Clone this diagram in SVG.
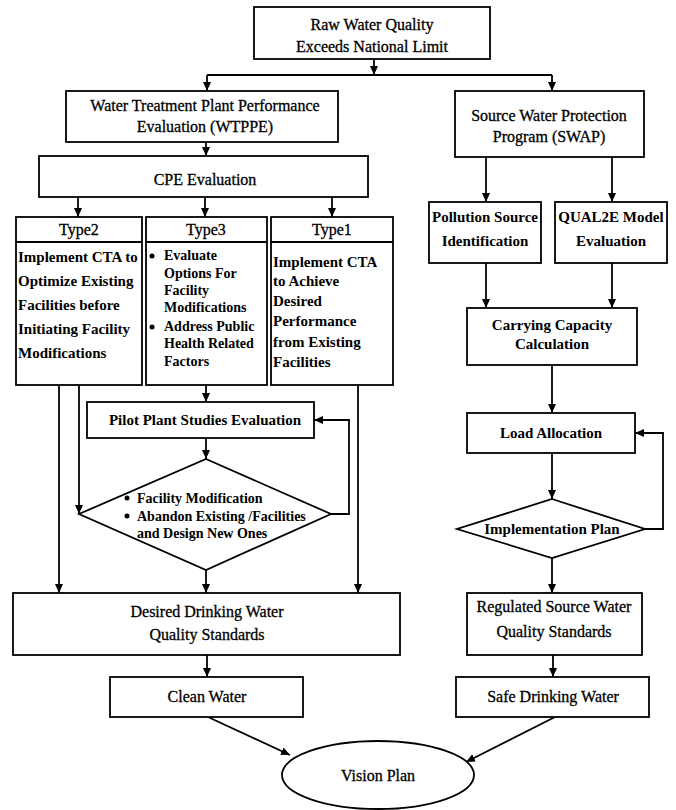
<svg xmlns="http://www.w3.org/2000/svg" width="676" height="810" viewBox="0 0 676 810">
<style>
.box{fill:#fff;stroke:#000;stroke-width:1.8}
.ln{fill:none;stroke:#000;stroke-width:1.8}
.t{font-family:"Liberation Serif","Times New Roman",serif;font-size:16px;fill:#000;stroke:#000;stroke-width:0.3;text-anchor:middle}
.b{font-family:"Liberation Serif","Times New Roman",serif;font-size:15px;font-weight:bold;fill:#000}
.s{font-size:14px}
.c{text-anchor:middle}
</style>
<defs>
<marker id="ah" markerWidth="10" markerHeight="10" refX="9" refY="5" orient="auto" markerUnits="userSpaceOnUse">
<path d="M0,1 L9,5 L0,9 Z" fill="#000"/>
</marker>
</defs>
<rect width="676" height="810" fill="#fff"/>

<g id="connectors">
<path class="ln" d="M374,59 V75" marker-end="url(#ah)"/>
<path class="ln" d="M207,75 H552"/>
<path class="ln" d="M207,75 V91" marker-end="url(#ah)"/>
<path class="ln" d="M552,75 V91" marker-end="url(#ah)"/>
<path class="ln" d="M206,142 V156" marker-end="url(#ah)"/>
<path class="ln" d="M78,197 V217" marker-end="url(#ah)"/>
<path class="ln" d="M205,197 V217" marker-end="url(#ah)"/>
<path class="ln" d="M332,197 V217" marker-end="url(#ah)"/>
<path class="ln" d="M206,385 V402" marker-end="url(#ah)"/>
<path class="ln" d="M206,438 V459" marker-end="url(#ah)"/>
<path class="ln" d="M79,385 V514" marker-end="url(#ah)"/>
<path class="ln" d="M331,514 H349 V420 H314" marker-end="url(#ah)"/>
<path class="ln" d="M59,385 V593" marker-end="url(#ah)"/>
<path class="ln" d="M206,570 V593" marker-end="url(#ah)"/>
<path class="ln" d="M358,385 V593" marker-end="url(#ah)"/>
<path class="ln" d="M207,655 V677" marker-end="url(#ah)"/>
<path class="ln" d="M208,717 L290,755" marker-end="url(#ah)"/>
<path class="ln" d="M486,157 V202" marker-end="url(#ah)"/>
<path class="ln" d="M612,157 V202" marker-end="url(#ah)"/>
<path class="ln" d="M486,263 V308" marker-end="url(#ah)"/>
<path class="ln" d="M612,263 V308" marker-end="url(#ah)"/>
<path class="ln" d="M552,365 V413" marker-end="url(#ah)"/>
<path class="ln" d="M552,453 V499" marker-end="url(#ah)"/>
<path class="ln" d="M645,529 H663 V433 H635" marker-end="url(#ah)"/>
<path class="ln" d="M552,558 V593" marker-end="url(#ah)"/>
<path class="ln" d="M553,655 V677" marker-end="url(#ah)"/>
<path class="ln" d="M555,717 L466,762" marker-end="url(#ah)"/>
</g>

<g id="raw">
<rect class="box" x="254" y="7" width="236" height="52"/>
<text class="t" x="372" y="30">Raw Water Quality</text>
<text class="t" x="372" y="52">Exceeds National Limit</text>
</g>

<g id="wtppe">
<rect class="box" x="66" y="91" width="272" height="51"/>
<text class="t" x="205" y="111">Water Treatment Plant Performance</text>
<text class="t" x="205" y="132">Evaluation (WTPPE)</text>
</g>

<g id="swap">
<rect class="box" x="455" y="91" width="189" height="66"/>
<text class="t" x="549" y="121">Source Water Protection</text>
<text class="t" x="549" y="142">Program (SWAP)</text>
</g>

<g id="cpe">
<rect class="box" x="39" y="156" width="329" height="41"/>
<text class="t" x="205" y="185">CPE Evaluation</text>
</g>

<g id="type2">
<rect class="box" x="16" y="217" width="126" height="168"/>
<line class="ln" x1="16" y1="242" x2="142" y2="242"/>
<text class="t" x="79" y="235">Type2</text>
<text class="b" x="18" y="262">Implement CTA to</text>
<text class="b" x="18" y="286">Optimize Existing</text>
<text class="b" x="18" y="310">Facilities before</text>
<text class="b" x="18" y="334">Initiating Facility</text>
<text class="b" x="18" y="358">Modifications</text>
</g>

<g id="type3">
<rect class="box" x="146" y="217" width="121" height="168"/>
<line class="ln" x1="146" y1="242" x2="267" y2="242"/>
<text class="t" x="206" y="235">Type3</text>
<circle cx="152" cy="256" r="2.5" fill="#000"/>
<text class="b s" x="164" y="260">Evaluate</text>
<text class="b s" x="164" y="278">Options For</text>
<text class="b s" x="164" y="295">Facility</text>
<text class="b s" x="164" y="312">Modifications</text>
<circle cx="152" cy="327" r="2.5" fill="#000"/>
<text class="b s" x="164" y="331">Address Public</text>
<text class="b s" x="164" y="348">Health Related</text>
<text class="b s" x="164" y="366">Factors</text>
</g>

<g id="type1">
<rect class="box" x="271" y="217" width="122" height="168"/>
<line class="ln" x1="271" y1="242" x2="393" y2="242"/>
<text class="t" x="332" y="235">Type1</text>
<text class="b" x="273" y="267">Implement CTA</text>
<text class="b" x="273" y="286">to Achieve</text>
<text class="b" x="273" y="306">Desired</text>
<text class="b" x="273" y="326">Performance</text>
<text class="b" x="273" y="347">from Existing</text>
<text class="b" x="273" y="367">Facilities</text>
</g>

<g id="pilot">
<rect class="box" x="87" y="402" width="227" height="36"/>
<text class="b c" x="205" y="425">Pilot Plant Studies Evaluation</text>
</g>

<g id="facility-decision">
<polygon class="box" points="206,459 331,514 206,570 79,514"/>
<circle cx="127" cy="498" r="2.5" fill="#000"/>
<text class="b s" x="137" y="503">Facility Modification</text>
<circle cx="127" cy="516" r="2.5" fill="#000"/>
<text class="b s" x="137" y="521">Abandon Existing /Facilities</text>
<text class="b s" x="137" y="538">and Design New Ones</text>
</g>

<g id="desired">
<rect class="box" x="13" y="593" width="387" height="62"/>
<text class="t" x="207" y="617">Desired Drinking Water</text>
<text class="t" x="207" y="640">Quality Standards</text>
</g>

<g id="clean">
<rect class="box" x="110" y="677" width="193" height="40"/>
<text class="t" x="207" y="702">Clean Water</text>
</g>

<g id="pollution">
<rect class="box" x="429" y="202" width="112" height="61"/>
<text class="b c" x="485" y="222">Pollution Source</text>
<text class="b c" x="485" y="246">Identification</text>
</g>

<g id="qual2e">
<rect class="box" x="555" y="202" width="112" height="61"/>
<text class="b c" x="611" y="222">QUAL2E Model</text>
<text class="b c" x="611" y="246">Evaluation</text>
</g>

<g id="carrying">
<rect class="box" x="467" y="308" width="170" height="57"/>
<text class="b c" x="552" y="330">Carrying Capacity</text>
<text class="b c" x="552" y="349">Calculation</text>
</g>

<g id="load">
<rect class="box" x="467" y="413" width="168" height="40"/>
<text class="b c" x="551" y="438">Load Allocation</text>
</g>

<g id="implementation">
<polygon class="box" points="552,499 645,529 552,558 457,529"/>
<text class="b c" x="552" y="534">Implementation Plan</text>
</g>

<g id="regulated">
<rect class="box" x="467" y="593" width="175" height="62"/>
<text class="t" x="554" y="612">Regulated Source Water</text>
<text class="t" x="554" y="637">Quality Standards</text>
</g>

<g id="safe">
<rect class="box" x="456" y="677" width="193" height="40"/>
<text class="t" x="553" y="702">Safe Drinking Water</text>
</g>

<g id="vision">
<ellipse class="box" cx="378" cy="775" rx="96" ry="34"/>
<text class="t" x="378" y="781">Vision Plan</text>
</g>
</svg>
